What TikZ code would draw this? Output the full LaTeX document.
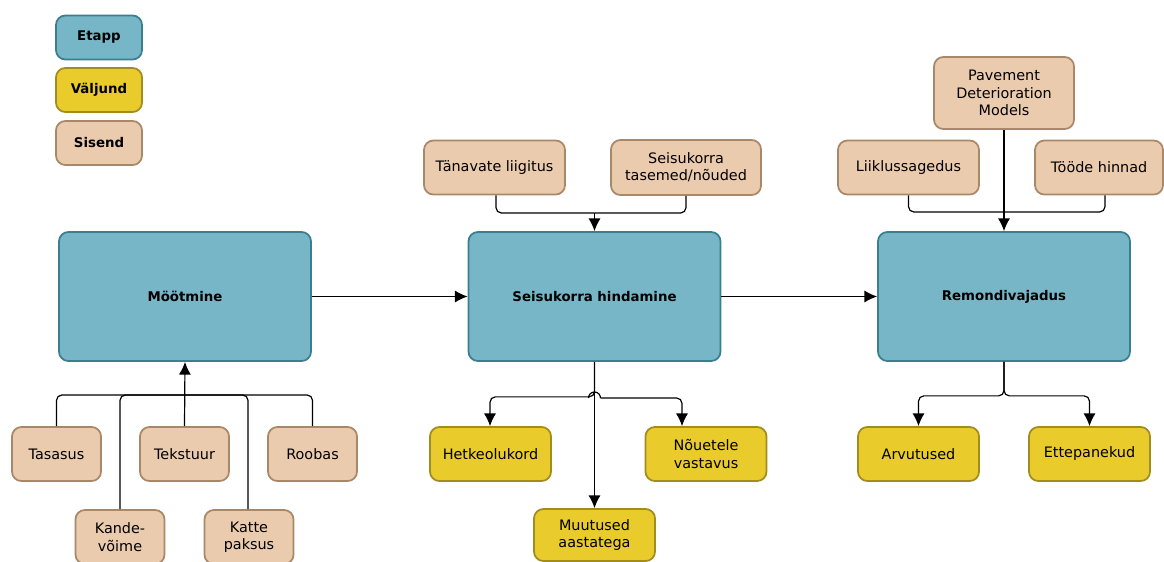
\documentclass[tikz,border=0pt]{standalone}
\usepackage{fontspec}
\setmainfont{DejaVu Sans}
\usetikzlibrary{arrows.meta, positioning}
\usepackage{xcolor}
\definecolor{etappfill}{HTML}{77B6C6}
\definecolor{etappdraw}{HTML}{3A7F8F}
\definecolor{valjfill}{HTML}{E9CB2C}
\definecolor{valjdraw}{HTML}{A38C1E}
\definecolor{sisfill}{HTML}{EBCBAD}
\definecolor{sisdraw}{HTML}{A98769}

\begin{document}
\begin{tikzpicture}[x=0.75pt, y=-0.75pt,
    box/.style={rounded corners=7pt, line width=1.3pt, align=center, inner sep=1pt,
      font=\fontsize{10.8}{13}\selectfont},
    etapp/.style={box, fill=etappfill, draw=etappdraw, minimum width=189pt, minimum height=96.75pt,
      font=\fontsize{10}{12.5}\selectfont\bfseries},
    valjund/.style={box, fill=valjfill, draw=valjdraw, minimum width=90.75pt, minimum height=40.5pt},
    sisend/.style={box, fill=sisfill, draw=sisdraw, minimum width=66.75pt, minimum height=40.5pt},
    legend/.style={minimum width=64.5pt, minimum height=33pt, font=\fontsize{10}{12.5}\selectfont\bfseries},
    conn/.style={line width=0.9pt, rounded corners=4pt},
    arr/.style={conn, -{Latex[length=9.5pt, width=9pt]}}]
  \useasboundingbox (0,0) rectangle (1164,561);

  % legend
  \node[etapp, legend] (lgEtapp) at (99,37.5) {Etapp};
  \node[valjund, legend] (lgValjund) at (99,90) {Väljund};
  \node[sisend, legend] (lgSisend) at (99,143) {Sisend};

  % etapid
  \node[etapp] (mootmine) at (185,296.5) {Möötmine};
  \node[etapp] (hindamine) at (594.5,296.5) {Seisukorra hindamine};
  \node[etapp] (remont) at (1004,296.5) {Remondivajadus};

  % sisendid: mootmine
  \node[sisend] (tasasus) at (56.5,454) {Tasasus};
  \node[sisend] (tekstuur) at (184.5,454) {Tekstuur};
  \node[sisend] (roobas) at (312.5,454) {Roobas};
  \node[sisend] (kandevoime) at (120,537) {Kande-\\võime};
  \node[sisend] (kattepaksus) at (249,537) {Katte\\paksus};

  % sisendid: hindamine
  \node[sisend, minimum width=105.75pt] (liigitus) at (494.5,167.5) {Tänavate liigitus};
  \node[sisend, minimum width=112.5pt, minimum height=41.25pt] (tasemed) at (686,167.5) {Seisukorra\\tasemed/nõuded};

  % sisendid: remont
  \node[sisend, minimum width=105pt, minimum height=54pt] (pdm) at (1004,93) {Pavement\\Deterioration\\Models};
  \node[sisend, minimum width=105.75pt] (liiklus) at (908.5,167.5) {Liiklussagedus};
  \node[sisend, minimum width=96pt] (hinnad) at (1099,167.5) {Tööde hinnad};

  % valjundid
  \node[valjund] (hetke) at (490.5,454) {Hetkeolukord};
  \node[valjund] (nouetele) at (706,454) {Nõuetele\\vastavus};
  \node[valjund, minimum height=39pt] (muutused) at (594.5,535) {Muutused\\aastatega};
  \node[valjund] (arvutused) at (918.5,454) {Arvutused};
  \node[valjund] (ettepanek) at (1089.5,454) {Ettepanekud};

  % etappide vahel
  \draw[arr] (mootmine) -- (hindamine);
  \draw[arr] (hindamine) -- (remont);

  % mootmise sisendid
  \coordinate (mjoin) at (184.5,395);
  \draw[arr] (tekstuur.north) -- (mootmine.south);
  \draw[conn] (tasasus.north) |- (mjoin);
  \draw[conn] (kandevoime.north -| 120,0) |- (mjoin);
  \draw[conn] (kattepaksus.north -| 248,0) |- (mjoin);
  \draw[conn] (roobas.north) |- (mjoin);

  % hindamise sisendid
  \coordinate (hjoin) at (594.5,213);
  \draw[conn] (liigitus.south -| 496,0) |- (hjoin);
  \draw[conn] (tasemed.south) |- (hjoin);
  \draw[arr] (hjoin) -- (hindamine.north);

  % remondi sisendid
  \coordinate (rjoin) at (1004,212);
  \draw[arr] (pdm.south) -- (remont.north);
  \draw[conn] (liiklus.south) |- (rjoin);
  \draw[conn] (hinnad.south -| 1105,0) |- (rjoin);

  % hindamise valjundid
  \draw[arr] (hindamine.south) -- (muutused.north);
  \draw[arr] (hindamine.south) -- ++(0,35) -| (hetke.north -| 490,0);
  \draw[conn] (588.5,398) arc[start angle=180, end angle=360, radius=6];
  \draw[arr] (600.5,398) -| (nouetele.north -| 682,0);

  % remondi valjundid
  \draw[arr] (remont.south) -- ++(0,34) -| (arvutused.north);
  \draw[arr] (remont.south) -- ++(0,34) -| (ettepanek.north);
\end{tikzpicture}
\end{document}
